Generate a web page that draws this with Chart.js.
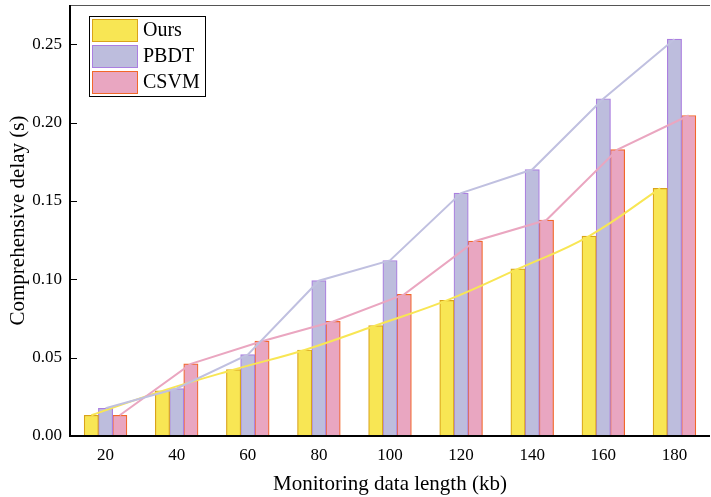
<!DOCTYPE html>
<html>
<head>
<meta charset="utf-8">
<script src="https://cdn.jsdelivr.net/npm/chart.js@4.4.0/dist/chart.umd.min.js"></script>
<style>
  html, body { margin: 0; padding: 0; background: #fff; }
  #wrap { width: 711px; height: 497px; }
</style>
</head>
<body>
<div id="wrap"><canvas id="delayChart" width="711" height="497"></canvas></div>
<script>
// --- data ---
const lengths = [20, 40, 60, 80, 100, 120, 140, 160, 180];
const oursDelay = [0.0132, 0.0288, 0.0423, 0.0549, 0.0705, 0.0865, 0.1066, 0.1276, 0.158];
const pbdtDelay = [0.0177, 0.0303, 0.0519, 0.0991, 0.112, 0.155, 0.170, 0.2152, 0.2532];
const csvmDelay = [0.0132, 0.046, 0.0605, 0.0731, 0.0904, 0.1244, 0.1378, 0.1827, 0.2045];
const yTicks = [0, 0.05, 0.10, 0.15, 0.20, 0.25];

const serif = "'Liberation Serif', 'DejaVu Serif', serif";

const ours = { name: "Ours", fill: "#f8e654", border: "#d9a31a", line: "#f8e654" };
const pbdt = { name: "PBDT", fill: "#bdbddd", border: "#ab7fe0", line: "#c0c0e0" };
const csvm = { name: "CSVM", fill: "#e9a6c1", border: "#f2672a", line: "#eaa6c0" };

// each bar sits 4 kb left/right of the group centre
const pts = (vals, shift) => vals.map((v, i) => ({ x: lengths[i] + shift, y: v }));

// --- box legend drawn inside the plot ---
const boxLegend = {
  id: "boxLegend",
  afterDraw(chart) {
    const ctx = chart.ctx;
    const a = chart.chartArea;
    const x0 = a.left + 19, y0 = a.top + 11;
    const items = [ours, pbdt, csvm];
    ctx.save();
    ctx.fillStyle = "#fff";
    ctx.fillRect(x0, y0, 116, 80);
    ctx.strokeStyle = "#000";
    ctx.lineWidth = 1;
    ctx.strokeRect(x0 + 0.5, y0 + 0.5, 116, 80);
    ctx.font = "20px " + serif;
    ctx.textBaseline = "middle";
    items.forEach((it, i) => {
      const sy = y0 + 3 + i * 26;
      ctx.fillStyle = it.fill;
      ctx.fillRect(x0 + 3, sy, 46, 23);
      ctx.strokeStyle = it.border;
      ctx.strokeRect(x0 + 3.5, sy + 0.5, 45, 22);
      ctx.fillStyle = "#000";
      ctx.fillText(it.name, x0 + 54, sy + 12);
    });
    ctx.restore();
  }
};

// --- frame: black left/bottom axes, grey top, inward y ticks ---
const frame = {
  id: "frame",
  afterDatasetsDraw(chart) {
    const ctx = chart.ctx;
    const a = chart.chartArea;
    const ys = chart.scales.y;
    ctx.save();
    ctx.strokeStyle = "#555";
    ctx.lineWidth = 1;
    ctx.beginPath();
    ctx.moveTo(a.left, a.top + 0.5);
    ctx.lineTo(a.right, a.top + 0.5);
    ctx.stroke();
    ctx.strokeStyle = "#000";
    ctx.lineWidth = 2;
    ctx.beginPath();
    ctx.moveTo(a.left, a.top);
    ctx.lineTo(a.left, a.bottom);
    ctx.lineTo(a.right, a.bottom);
    ctx.stroke();
    ctx.lineWidth = 1;
    yTicks.forEach(t => {
      const py = Math.round(ys.getPixelForValue(t)) + 0.5;
      ctx.beginPath();
      ctx.moveTo(a.left, py);
      ctx.lineTo(a.left + 7, py);
      ctx.stroke();
    });
    ctx.restore();
  }
};

const barSet = (s, vals, shift) => ({
  type: "bar",
  label: s.name,
  data: pts(vals, shift),
  backgroundColor: s.fill,
  borderColor: s.border,
  borderWidth: 1.2,
  grouped: false,
  barThickness: 14.3,
  order: 2
});

const lineSet = (s, vals, shift, tension) => ({
  type: "line",
  label: s.name + " line",
  data: pts(vals, shift),
  borderColor: s.line,
  borderWidth: 2,
  pointRadius: 0,
  tension: tension,
  fill: false,
  order: 1
});

new Chart(document.getElementById("delayChart"), {
  data: {
    datasets: [
      lineSet(pbdt, pbdtDelay, 0, 0),
      lineSet(csvm, csvmDelay, 4, 0),
      lineSet(ours, oursDelay, -4, 0.4),
      barSet(ours, oursDelay, -4),
      barSet(pbdt, pbdtDelay, 0),
      barSet(csvm, csvmDelay, 4)
    ]
  },
  options: {
    responsive: false,
    animation: false,
    layout: { padding: { top: 5, right: 1, left: 0, bottom: 0 } },
    plugins: { legend: { display: false }, tooltip: { enabled: false } },
    scales: {
      x: {
        type: "linear",
        min: 10,
        max: 190,
        offset: false,
        grid: { display: false, drawTicks: false },
        border: { display: false },
        afterBuildTicks(s) { s.ticks = lengths.map(v => ({ value: v })); },
        ticks: { color: "#000", font: { family: serif, size: 17 }, padding: 9, callback: v => String(v) },
        title: {
          display: true,
          text: "Monitoring data length (kb)",
          color: "#000",
          font: { family: serif, size: 21 },
          padding: { top: 8, bottom: 0 }
        },
        afterFit(s) { s.height = 61; s.paddingLeft = 0; s.paddingRight = 0; }
      },
      y: {
        min: 0,
        max: 0.275,
        grid: { display: false, drawTicks: false },
        border: { display: false },
        afterBuildTicks(s) { s.ticks = yTicks.map(v => ({ value: v })); },
        ticks: {
          color: "#000",
          font: { family: serif, size: 17 },
          padding: 8,
          callback: v => v.toFixed(2)
        },
        title: {
          display: true,
          text: "Comprehensive delay (s)",
          color: "#000",
          font: { family: serif, size: 21 },
          padding: { top: 6, bottom: 4 }
        },
        afterFit(s) { s.width = 70; s.paddingTop = 0; s.paddingBottom = 0; }
      }
    }
  },
  plugins: [frame, boxLegend]
});
</script>
</body>
</html>
